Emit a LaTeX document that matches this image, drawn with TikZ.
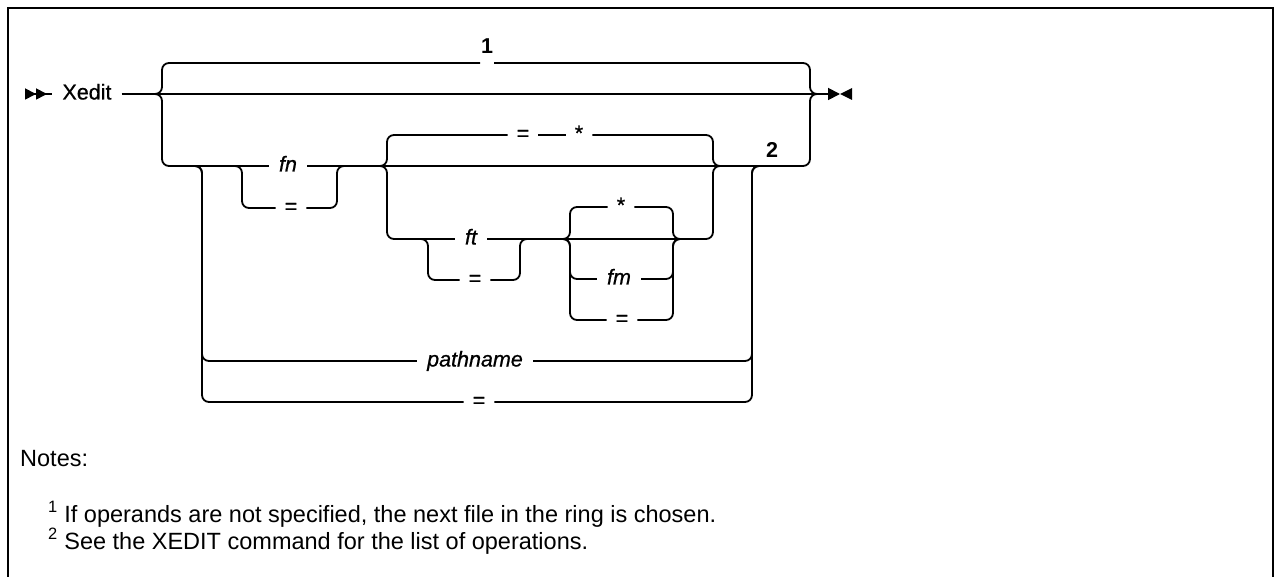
\documentclass[tikz,border=0pt]{standalone}
\usepackage{fontspec}
\setmainfont{Liberation Sans}
\newfontfamily\railfont[FakeBold=0.7]{Liberation Sans}
\usetikzlibrary{arrows.meta,positioning}

\begin{document}
\begin{tikzpicture}[x=1pt, y=-1pt,
  rail/.style={line width=1.8pt, rounded corners=7pt},
  kw/.style={font=\railfont\fontsize{21.5}{24}\selectfont, inner xsep=10pt,
    inner ysep=0pt, text height=11pt, text depth=0pt},
  var/.style={kw, font=\railfont\fontsize{21.5}{24}\selectfont\itshape},
  sym/.style={kw, inner xsep=9pt},
  fnmark/.style={font=\fontsize{21.5}{24}\selectfont\bfseries, inner sep=0pt},
  note/.style={font=\fontsize{23.5}{27}\selectfont, anchor=base west, inner sep=0pt}]
  \useasboundingbox (0,0) rectangle (1274,577);
  \draw[line width=2.5pt] (8,577) -- (8,8) -- (1273,8) -- (1273,577);

  % keywords and operands on the rails
  \node[kw] (xedit) at (87,94) {Xedit};
  \node[fnmark] (n1) at (487,46) {1};
  \node[fnmark] (n2) at (772,150) {2};
  \node[var] (fn) at (288,166) {fn};
  \node[sym] (fneq) at (291,208) {=};
  \node[sym] (dfeq) at (523,135) {=};
  \node[sym] (dfstar) at (579,135) {*};
  \node[var] (ft) at (471,239) {ft};
  \node[sym] (fteq) at (475,280) {=};
  \node[sym] (fmstar) at (621,207) {*};
  \node[var] (fm) at (619,279) {fm};
  \node[sym] (fmeq) at (622,320) {=};
  \node[var] (path) at (475,361) {pathname};
  \node[sym] (patheq) at (479,402) {=};

  \coordinate (begin) at (25,94);
  \coordinate (exit) at (840,94);
  \coordinate (gapL) at (480,63);
  \coordinate (gapR) at (494,63);

  % main line
  \draw[rail, {Triangle[reversed,length=11pt,width=11pt]Triangle[reversed,length=11pt,width=11pt]}-]
    (begin) -- (xedit.west);
  \draw[rail, -{Triangle[length=12pt,width=12pt]}] (xedit.east) -- (exit);
  \fill (exit) -- ++(12,-6) -- ++(0,12) -- cycle;

  % default (note 1)
  \draw[rail] (150,94) -| (162,63) -- (gapL);
  \draw[rail] (gapR) -| (810,94) -- (822,94);

  % operands
  \draw[rail] (150,94) -| (162,166) -- (fn.west);
  \draw[rail] (fn.east) -| (810,94) -- (822,94);
  \draw[rail] (225,166) -| (242,208) -- (fneq.west);
  \draw[rail] (fneq.east) -| (337,166) -- (350,166);

  \draw[rail] (375,166) -| (387,135) -- (dfeq.west);
  \draw[rail] (dfeq.east) -- (dfstar.west);
  \draw[rail] (dfstar.east) -| (713,166) -- (725,166);
  \draw[rail] (375,166) -| (387,239) -- (ft.west);
  \draw[rail] (ft.east) -| (713,166) -- (725,166);
  \draw[rail] (415,239) -| (428,280) -- (fteq.west);
  \draw[rail] (fteq.east) -| (520,239) -- (532,239);

  \draw[rail] (558,239) -| (570,207) -- (fmstar.west);
  \draw[rail] (fmstar.east) -| (673,239) -- (685,239);
  \draw[rail] (558,239) -| (570,279) -- (fm.west);
  \draw[rail] (fm.east) -| (673,239) -- (685,239);
  \draw[rail] (558,239) -| (570,320) -- (fmeq.west);
  \draw[rail] (fmeq.east) -| (673,239) -- (685,239);

  \draw[rail] (190,166) -| (202,361) -- (path.west);
  \draw[rail] (path.east) -| (752,166) -- (764,166);
  \draw[rail] (190,166) -| (202,402) -- (patheq.west);
  \draw[rail] (patheq.east) -| (752,166) -- (764,166);

  % notes
  \node[note] (notes) at (20,466) {Notes:};
  \node[note] (note1) at (48,522)
    {\textsuperscript{1} If operands are not specified, the next file in the ring is chosen.};
  \node[note] (note2) at (48,549)
    {\textsuperscript{2} See the XEDIT command for the list of operations.};
\end{tikzpicture}
\end{document}
